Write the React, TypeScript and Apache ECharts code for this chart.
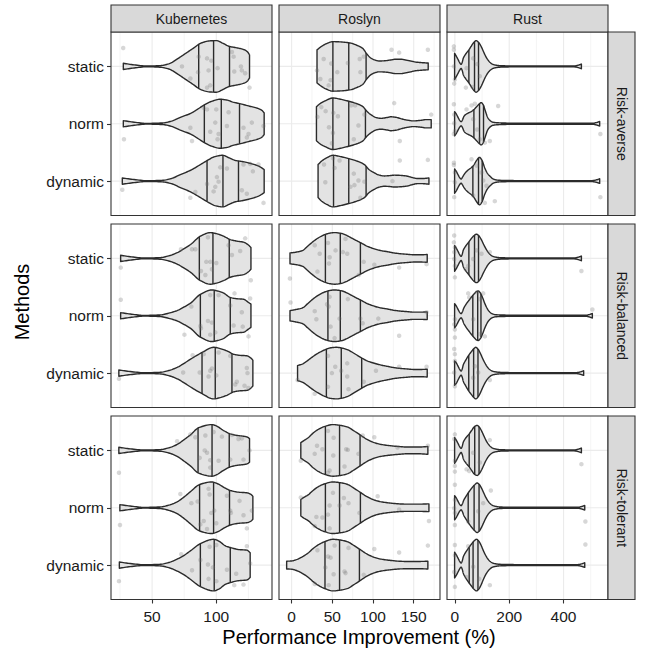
import React, { useEffect, useRef } from "react";
import * as echarts from "echarts";

const PROJECTS = ["Kubernetes", "Roslyn", "Rust"];
const RISK_LEVELS = ["Risk-averse", "Risk-balanced", "Risk-tolerant"];
const METHODS = ["static", "norm", "dynamic"];

const X_LIMITS = [[18, 143.4], [-15.5, 182.3], [-29, 563.6]];
const X_TICK_VALUES = [[50, 100], [0, 50, 100, 150], [0, 200, 400]];
const X_MINOR_VALUES = [[25, 75, 125], [25, 75, 125, 175], [100, 300, 500]];

// Violin outlines: [x, relative half-width] ; [row][method]
const KUBERNETES_SHAPES = [
  [
    [[27.6,.12],[36,.06],[46,.015],[56,.03],[63,.1],[70,.3],[76,.5],[82,.7],[88,.9],[95,.99],[100,1],[105,.9],[110,.78],[116,.72],[121,.66],[124,.58],[125.9,.45]],
    [[27.6,.12],[36,.06],[46,.015],[58,.03],[65,.1],[72,.25],[80,.4],[86,.58],[91,.74],[97,.88],[103,.95],[108,.92],[113,.84],[119,.77],[126,.68],[132,.6],[135.5,.52],[137.3,.42]],
    [[26.8,.12],[36,.06],[46,.015],[58,.03],[65,.1],[72,.25],[80,.42],[87,.62],[93,.8],[99,.95],[105,1],[110,.9],[115,.8],[120,.76],[127,.68],[133,.58],[137.3,.45]],
  ],
  [
    [[25.5,.12],[34,.06],[44,.015],[56,.03],[63,.1],[69.5,.22],[75,.38],[80,.54],[87.6,.86],[95.3,1],[100,.96],[105.7,.86],[110.9,.73],[116,.67],[121.2,.63],[125,.52],[127,.42]],
    [[25.5,.12],[34,.06],[44,.015],[56,.03],[63,.1],[69.5,.2],[75,.34],[80,.49],[87.6,.83],[96.6,1],[101,.96],[105.7,.88],[110.9,.71],[116,.66],[121.2,.64],[125,.52],[127,.45]],
    [[24.1,.12],[33,.06],[44,.015],[56,.03],[63,.1],[69.5,.22],[75,.38],[80,.54],[89,.8],[98,1],[103,.95],[108.3,.86],[113.5,.73],[118,.69],[123.8,.67],[127,.58],[128.5,.5]],
  ],
  [
    [[24.1,.12],[33,.06],[44,.015],[56,.03],[63,.1],[69.5,.23],[75,.42],[79.8,.6],[86.3,.88],[96.6,1],[100,.95],[105.7,.77],[110.9,.64],[116,.58],[121.2,.55],[124,.52],[125.9,.46]],
    [[24.9,.12],[34,.06],[44,.015],[56,.03],[63,.1],[69.5,.23],[75,.42],[79.8,.62],[87,.9],[96.6,1],[101,.93],[107,.76],[110.9,.67],[118,.6],[123.8,.58],[127,.52],[128.5,.45]],
    [[24.5,.12],[33,.06],[44,.015],[56,.03],[63,.1],[69.5,.23],[75,.38],[79.8,.55],[87.6,.83],[97.9,1],[102,.93],[107,.75],[110.9,.68],[118,.6],[123.8,.58],[126.4,.48]],
  ],
];

const ROSLYN_SHAPES = [
  [
    [[31.2,.64],[36,.76],[42,.87],[50.8,.96],[60,.95],[73.1,.9],[80,.82],[87.3,.7],[92,.5],[97.5,.32],[102,.25],[107.7,.21],[115,.22],[121.9,.25],[128,.28],[134.1,.28],[140,.25],[146.3,.21],[152,.17],[158.5,.15],[167.8,.13]],
    [[30.5,.66],[35,.78],[42,.9],[50.8,1],[60,.95],[69.1,.88],[78,.8],[87.3,.67],[92,.5],[97.5,.35],[104,.24],[110,.21],[117,.24],[122,.27],[128,.25],[135,.19],[142,.14],[150,.11],[158,.13],[165,.16],[171.5,.16]],
    [[32.5,.64],[37,.78],[43,.9],[50.8,1],[60,.95],[69.1,.88],[78,.8],[89.4,.64],[95,.45],[101.6,.32],[107,.24],[113.8,.2],[120,.21],[126,.23],[134,.22],[142.3,.19],[148,.14],[154.5,.1],[161,.1],[168.7,.12]],
  ],
  [
    [[-2,.21],[5,.24],[13.7,.31],[19,.45],[24.4,.6],[32,.78],[40.6,.92],[47,.98],[52.8,1],[60.9,.97],[67,.9],[73.1,.8],[79,.7],[85.3,.6],[93,.47],[101.6,.37],[110,.3],[117.9,.26],[126,.21],[134.1,.18],[142,.16],[150.4,.14],[158,.14],[166.6,.15]],
    [[-2,.2],[5,.24],[13.7,.31],[19,.45],[24.4,.6],[32,.78],[40.6,.92],[47,.98],[52.8,1],[60.9,.97],[67,.9],[73.1,.8],[79,.7],[85.3,.6],[93,.47],[101.6,.37],[110,.3],[117.9,.26],[126,.21],[134.1,.18],[142,.16],[150.4,.14],[158,.14],[166.6,.15]],
    [[7.3,.29],[13.7,.36],[19,.47],[24.4,.6],[32,.76],[40.6,.9],[48,.98],[54.9,1],[62,.97],[69.1,.9],[77,.76],[85.3,.6],[93,.47],[101.6,.38],[110,.31],[117.9,.26],[126,.21],[134.1,.18],[142,.16],[150.4,.14],[158,.14],[166.6,.15]],
  ],
  [
    [[11.3,.3],[15,.38],[20.3,.49],[26,.66],[32.5,.81],[40,.92],[50.8,1],[60,.97],[69.1,.9],[76,.77],[83.3,.62],[92,.44],[101.6,.3],[110,.23],[121.9,.18],[132,.15],[142.3,.13],[155,.13],[167.4,.15]],
    [[11.3,.32],[15,.4],[20.3,.5],[26,.66],[32.5,.81],[40,.92],[50.8,1],[60,.97],[69.1,.9],[76,.77],[83.3,.62],[92,.44],[101.6,.3],[110,.23],[121.9,.18],[132,.15],[142.3,.14],[155,.14],[168.7,.15]],
    [[-6.1,.15],[0,.16],[5,.2],[12,.3],[20.3,.47],[26,.63],[32.5,.78],[40,.9],[50.8,1],[60,.97],[69.1,.9],[76,.77],[83.3,.62],[92,.44],[101.6,.3],[110,.23],[121.9,.18],[132,.15],[142.3,.14],[155,.14],[167.4,.15]],
  ],
];

const RUST_SHAPES = [
  [
    [[-1,.51],[5,.4],[12,.26],[18,.14],[23,.08],[27,.16],[31,.32],[40,.48],[51.5,.64],[60,.78],[70,.93],[78,1],[88,.92],[96.8,.77],[105,.58],[113,.4],[121,.26],[130,.15],[140,.08],[150,.05],[165,.03],[200,.02],[440,.02],[455,.05],[465.7,.09]],
    [[-1,.47],[5,.38],[12,.24],[18,.13],[23,.08],[28,.15],[33,.28],[40,.36],[50,.42],[60,.47],[70,.55],[80,.66],[90,.77],[97,.82],[104,.74],[112,.5],[121,.24],[130,.12],[140,.06],[155,.04],[175,.03],[220,.02],[505,.02],[522,.05],[533,.09]],
    [[-1,.47],[5,.38],[12,.24],[18,.13],[23,.08],[28,.15],[33,.24],[40,.34],[50,.44],[60,.52],[70,.63],[80,.8],[90.7,.92],[100,.8],[110,.51],[120,.3],[131,.17],[140,.09],[150,.05],[165,.03],[220,.02],[505,.02],[522,.05],[533,.09]],
  ],
  [
    [[-1,.5],[5,.4],[12,.26],[18,.14],[23,.08],[27,.16],[31,.32],[40,.48],[51.5,.64],[60,.76],[70,.88],[79.7,.94],[88,.88],[96.8,.74],[105,.56],[113,.4],[121,.26],[130,.15],[140,.08],[150,.05],[165,.03],[200,.02],[440,.02],[455,.05],[465.7,.09]],
    [[-1,.47],[5,.38],[12,.24],[18,.13],[23,.08],[28,.16],[33,.3],[42,.46],[52,.6],[62,.74],[72,.86],[80,.94],[86,.96],[94,.88],[102,.7],[110,.48],[118,.3],[127,.16],[137,.08],[150,.04],[170,.03],[220,.02],[480,.02],[496,.05],[506,.09]],
    [[-1,.47],[5,.4],[12,.26],[18,.14],[23,.08],[27,.16],[31,.32],[40,.5],[50,.68],[60,.82],[70,.95],[77,1],[85,.93],[94,.76],[102,.57],[110,.4],[118,.26],[127,.15],[137,.08],[148,.05],[165,.03],[200,.02],[448,.02],[463,.05],[474,.09]],
  ],
  [
    [[-1,.5],[5,.4],[12,.26],[18,.14],[23,.08],[27,.16],[31,.32],[40,.48],[52,.63],[62,.78],[72,.92],[82,.97],[90,.9],[98,.76],[106,.58],[114,.4],[122,.26],[131,.15],[141,.08],[152,.05],[165,.03],[200,.02],[440,.02],[455,.05],[465.7,.09]],
    [[-1,.47],[5,.38],[12,.24],[18,.13],[23,.08],[28,.16],[33,.3],[42,.46],[52,.62],[62,.76],[72,.88],[82,.96],[90,.9],[98,.76],[106,.58],[114,.4],[122,.26],[131,.15],[141,.08],[152,.05],[165,.03],[220,.02],[452,.02],[467,.05],[478,.09]],
    [[-1,.5],[5,.4],[12,.26],[18,.14],[23,.08],[27,.16],[31,.32],[40,.5],[50,.66],[60,.8],[70,.93],[79.7,1],[88,.93],[96,.78],[104,.58],[112,.4],[120,.26],[129,.15],[139,.08],[150,.05],[165,.03],[220,.02],[452,.02],[467,.05],[478,.09]],
  ],
];

// Quartiles (25%, 50%, 75%) ; [row][method]
const KUBERNETES_QUARTILES = [
  [[86.3, 97.9, 110.3], [90.7, 103.9, 118.1], [92.8, 105.2, 117.3]],
  [[86.8, 97.4, 110.1], [87.6, 98.4, 110.9], [88.9, 99.2, 112.2]],
  [[85.8, 96.7, 110.1], [87, 97.9, 110.3], [87.6, 98.4, 110.9]],
];
const ROSLYN_QUARTILES = [
  [[50.7, 70.2, 91.5], [50.7, 70.2, 90.7], [51.5, 70.2, 91.5]],
  [[41.5, 59.8, 84.5], [44.6, 59.8, 84.5], [42.7, 61, 86.1]],
  [[41.5, 58.9, 84.1], [41.5, 58.9, 84.5], [41, 58.9, 83.3]],
];
const RUST_QUARTILES = [
  [[51.5, 72.3, 87], [70, 90.7, 105.4], [66.2, 87, 100.5]],
  [[51.5, 72.3, 87], [66, 84, 96], [51, 69, 85]],
  [[52.7, 73, 89], [49, 70.8, 89], [52.7, 67, 85]],
];

// Jittered observations [x, jittered method position]
const KUBERNETES_POINTS = [
  [[27.5,0.68],[73.3,1.0],[79.8,1.21],[86.3,0.83],[85.8,1.10],[92.8,0.86],[94,1.07],[96.1,0.90],[101,1.03],[92.8,1.37],[95.3,1.33],[112.2,0.75],[113.5,0.83],[114,1.09],[119.2,1.0],[119.9,1.07],[122.5,1.12],[125.9,1.37],
   [28.1,2.27],[79.8,2.07],[81.1,2.30],[90.2,1.72],[92.8,1.75],[95.3,2.14],[100,1.75],[99.2,1.98],[101.8,2.18],[101,2.27],[108.3,2.04],[121.2,2.07],[123.8,2.24],[125.1,2.18],[127.7,1.98],[136.8,2.04],[109.6,1.80],
   [26.8,3.15],[79.8,3.29],[83.7,3.19],[92.8,3.05],[100.5,2.93],[101.8,3.01],[103.1,2.76],[99.2,3.10],[97.9,3.18],[108.3,2.78],[119.9,3.16],[121.2,2.71],[126.4,2.70],[128.5,2.83],[132.9,2.71],[136.8,3.38],[123.8,3.22]],
  [[25.6,1.16],[72.5,0.84],[81.1,0.84],[83.7,0.84],[93.5,0.63],[92.2,1.06],[95.3,1.06],[100,1.08],[88.1,1.22],[91.5,1.29],[96.6,1.19],[109.6,0.77],[112.2,0.94],[118.6,0.87],[122.5,0.65],[126.9,1.38],
   [25.6,1.72],[80.6,1.84],[95.3,1.64],[101.8,1.64],[114.2,1.61],[126.4,1.70],[110.9,1.82],[119.9,1.94],[93.5,2.09],[96.6,2.12],[87.6,2.18],[88.1,2.22],[75.2,2.33],[95.3,2.33],[99.2,2.29],[113.5,2.17],[120.6,2.19],[125.1,2.36],
   [81.6,2.69],[90.2,2.67],[101.8,2.64],[110.9,2.70],[123.8,2.91],[124.3,3.0],[74.2,2.99],[87.1,2.99],[95.3,2.96],[96.6,2.92],[100,3.04],[94,3.06],[116,3.15],[114.8,3.20],[24.2,3.10],[122,3.22],[125,3.26]],
  [[24.2,1.39],[69.5,0.84],[79.8,0.72],[83.7,0.77],[91.5,0.74],[91,1.0],[92.8,1.04],[95.3,1.17],[87.1,1.13],[95.3,1.30],[97.9,0.68],[101.8,1.18],[104.4,0.76],[110.9,1.16],[112.2,0.73],[117.3,0.80],[119.9,0.79],[121.2,1.16],[125.9,1.0],
   [25,2.30],[72,1.76],[80.6,1.92],[85.5,1.89],[94,1.67],[94.8,1.77],[96.1,2.09],[98.4,2.05],[90.2,2.23],[87.6,2.29],[92.8,2.37],[100,2.27],[108.3,1.79],[110.9,2.05],[111.4,2.09],[118.1,1.88],[121.2,2.13],[123.8,2.36],[127.7,2.05],
   [24.2,3.28],[72.7,2.81],[81.1,3.09],[87.6,2.91],[93.5,2.99],[94.8,2.68],[100,2.65],[97.4,3.04],[94,3.24],[100,3.28],[108.3,3.08],[115.5,3.15],[114,3.35],[121.2,3.34],[123.8,2.67],[126.4,2.97]],
];

const ROSLYN_POINTS = [
  [[39.4,0.87],[48.7,0.95],[31.2,1.07],[56.1,1.10],[69.1,0.94],[83.7,0.87],[88.6,0.83],[84.5,1.10],[35.3,1.22],[47.9,1.24],[45.5,1.33],[122.7,0.71],[132.1,0.76],[167.4,0.71],
   [31.7,1.88],[36.5,1.71],[41.8,1.78],[51.2,1.81],[56.9,1.87],[45.9,2.06],[50.8,2.16],[49.5,2.34],[73.1,1.68],[78,1.68],[89.4,1.84],[82.1,2.03],[76.4,2.27],[126,1.64],[171.5,1.84],[132.9,2.30],
   [39.8,2.71],[50.8,2.60],[58.9,2.64],[52.8,2.77],[41.4,3.02],[76.4,2.87],[82.1,2.99],[77.2,3.07],[72.3,3.10],[89.4,3.01],[123.9,3.0],[132.9,2.64],[167.4,2.63],[84.5,3.29]],
  [[-2.1,1.35],[28.4,0.77],[34.5,0.92],[44.7,0.73],[46.7,0.98],[45.9,1.09],[54,0.86],[63,0.89],[68.3,0.92],[66.2,0.66],[31.7,1.23],[88.6,1.06],[101.6,1.11],[132.1,1.16],[165.8,1.10],[82.5,1.29],
   [-1.3,1.77],[28.4,1.92],[30.4,2.06],[43.5,1.80],[45.5,1.84],[46.7,1.67],[58.9,2.05],[69.1,1.71],[84.5,2.05],[87.3,2.13],[106.5,2.05],[47.9,2.19],[52.8,2.39],[132.1,2.35],[165.8,1.94],
   [7.3,3.12],[44.7,2.70],[49.5,3.0],[53.6,2.89],[60.9,2.96],[68.3,2.83],[68.3,3.06],[88.6,3.15],[103.6,2.96],[132.1,2.89],[165.8,2.89],[28.4,3.36],[44.7,3.24],[69.9,3.28]],
  [[44.7,0.66],[51.6,0.78],[31.2,0.92],[37.8,0.98],[28.4,1.06],[11.3,1.18],[51.2,1.09],[67,0.98],[69.1,0.99],[82.1,1.06],[87.3,0.74],[101.6,0.77],[65,1.28],[46.7,1.35],[44.7,1.39],[130.1,0.95],[167.4,0.92],
   [11.3,1.82],[50.8,1.74],[46.7,1.96],[64.2,1.83],[69.9,1.92],[58.9,1.96],[44.7,2.12],[30.4,2.16],[37.8,2.17],[28.4,2.32],[46.7,2.36],[83.3,2.09],[105.7,1.80],[132.1,2.03],[168.7,2.23],
   [31.7,2.74],[52.8,2.66],[44.7,2.85],[47.9,2.87],[41.4,3.04],[65,3.11],[66.2,3.14],[51.6,3.16],[28.4,3.33],[45.5,3.35],[88.6,3.17],[101.6,2.72],[132.1,2.78],[167.4,2.66],[69.9,2.70]],
];

const RUST_POINTS = [
  [[-3.7,0.65],[-3.7,0.71],[0,1.23],[-2.5,1.30],[40.4,1.37],[65,1.36],[42.9,1.03],[82.1,0.96],[91.9,1.17],[67.4,0.86],[-3.7,1.0],
   [-3.7,1.66],[-2.5,1.84],[-2.5,1.99],[0,2.13],[-3.7,2.18],[42.9,1.75],[61.3,1.68],[73.5,1.65],[67.4,1.92],[82.1,2.10],[91.9,2.27],[110.3,2.33],[128.7,2.30],[159.3,1.69],[535.5,2.18],
   [-3.7,2.68],[-3.7,2.72],[0,2.85],[0,3.02],[-2.5,3.28],[61.3,2.62],[79.7,2.73],[98,2.85],[104.2,2.99],[116.4,3.08],[110.3,3.38],[147,3.35],[67.4,3.25],[535.5,3.28]],
  [[-2.5,0.60],[-3.7,0.72],[0,0.81],[-2.5,0.89],[-2.5,1.01],[0,1.33],[40.4,1.19],[49,1.13],[67.4,1.01],[79.7,0.86],[98,0.92],[128.7,0.89],[465.7,1.22],[0,1.13],
   [49,1.61],[52.7,1.68],[82.1,1.59],[104.2,1.61],[91.9,1.71],[0,2.06],[-2.5,2.15],[0,2.24],[0,2.38],[67.4,2.06],[91.9,2.32],[110.3,2.36],[506.1,1.89],
   [-2.5,2.58],[0,2.67],[0,2.79],[-2.5,2.99],[0,3.23],[73.5,2.88],[85.8,2.99],[128.7,3.12],[67.4,3.08]],
  [[0,0.72],[-2.5,0.80],[0,1.18],[0,1.27],[0,1.37],[42.9,1.33],[52.7,1.36],[128.7,0.82],[91.9,1.21],[67.4,1.04],[465.7,1.24],
   [0,1.60],[0,1.86],[-2.5,2.01],[0,2.09],[0,2.30],[132.4,1.70],[49,2.24],[85.8,2.06],[104.2,1.92],[480.4,2.24],
   [0,2.65],[0,2.83],[-2.5,3.12],[0,3.38],[49,2.67],[67.4,3.03],[89.5,3.24],[128.7,3.35],[480.4,2.64],[42.9,3.21]],
];

const SHAPES = [KUBERNETES_SHAPES, ROSLYN_SHAPES, RUST_SHAPES];
const QUARTILES = [KUBERNETES_QUARTILES, ROSLYN_QUARTILES, RUST_QUARTILES];
const POINTS = [KUBERNETES_POINTS, ROSLYN_POINTS, RUST_POINTS];

const FONT = "'Liberation Sans', Arial, Helvetica, sans-serif";
const GRID_LEFT = [111, 279, 447];
const GRID_TOP = [32, 224, 416];
const PANEL_W = 161;
const PANEL_H = 183.5;
const HALF = 0.45;
const EDGE = "#2B2B2B";

function monotone(prof: number[][]) {
  const n = prof.length;
  const xs = prof.map((p) => p[0]);
  const ys = prof.map((p) => p[1]);
  const h: number[] = [];
  const d: number[] = [];
  for (let i = 0; i < n - 1; i++) {
    h[i] = xs[i + 1] - xs[i];
    d[i] = (ys[i + 1] - ys[i]) / h[i];
  }
  const m: number[] = new Array(n).fill(0);
  m[0] = d[0];
  m[n - 1] = d[n - 2];
  for (let i = 1; i < n - 1; i++) {
    if (d[i - 1] * d[i] <= 0) m[i] = 0;
    else {
      const w1 = 2 * h[i] + h[i - 1];
      const w2 = h[i] + 2 * h[i - 1];
      m[i] = (w1 + w2) / (w1 / d[i - 1] + w2 / d[i]);
    }
  }
  const f = (x: number) => {
    if (x <= xs[0]) return ys[0];
    if (x >= xs[n - 1]) return ys[n - 1];
    let i = 0;
    while (i < n - 2 && x > xs[i + 1]) i++;
    const t = (x - xs[i]) / h[i];
    const t2 = t * t;
    const t3 = t2 * t;
    const v =
      (2 * t3 - 3 * t2 + 1) * ys[i] +
      (t3 - 2 * t2 + t) * h[i] * m[i] +
      (-2 * t3 + 3 * t2) * ys[i + 1] +
      (t3 - t2) * h[i] * m[i + 1];
    return Math.max(0, v);
  };
  const samples: number[] = [];
  for (let i = 0; i < n - 1; i++) {
    for (let k = 0; k < 8; k++) samples.push(xs[i] + (h[i] * k) / 8);
  }
  samples.push(xs[n - 1]);
  return { f, samples };
}

function buildOption() {
  const grid: any[] = [];
  const xAxis: any[] = [];
  const yAxis: any[] = [];
  const series: any[] = [];
  const graphic: any[] = [];

  for (let r = 0; r < 3; r++) {
    for (let c = 0; c < 3; c++) {
      const idx = r * 3 + c;
      const [xmin, xmax] = X_LIMITS[c];
      grid.push({ left: GRID_LEFT[c], top: GRID_TOP[r], width: PANEL_W, height: PANEL_H, show: false });
      xAxis.push({
        type: "value",
        gridIndex: idx,
        min: xmin,
        max: xmax,
        splitLine: { show: false },
        axisLine: { show: false },
        axisTick: { show: r === 2, customValues: X_TICK_VALUES[c], length: 4, lineStyle: { color: "#333", width: 1.1 } },
        axisLabel: { show: r === 2, customValues: X_TICK_VALUES[c], margin: 9, fontSize: 15.5, color: "#1A1A1A", fontFamily: FONT },
      });
      yAxis.push({
        type: "value",
        gridIndex: idx,
        min: 0.4,
        max: 3.6,
        inverse: true,
        splitLine: { show: false },
        axisLine: { show: false },
        axisTick: { show: c === 0, customValues: [1, 2, 3], length: 4, lineStyle: { color: "#333", width: 1.1 } },
        axisLabel: {
          show: c === 0,
          customValues: [1, 2, 3],
          formatter: (v: number) => METHODS[Math.round(v) - 1] || "",
          margin: 7,
          fontSize: 15.5,
          color: "#1A1A1A",
          fontFamily: FONT,
        },
      });

      const gridData: number[][] = [];
      X_TICK_VALUES[c].forEach((v) => gridData.push([v, 2, 0, 1]));
      X_MINOR_VALUES[c].forEach((v) => gridData.push([v, 2, 0, 0]));
      [1, 2, 3].forEach((v) => gridData.push([(xmin + xmax) / 2, v, 1, 1]));
      series.push({
        type: "custom",
        xAxisIndex: idx,
        yAxisIndex: idx,
        silent: true,
        z: 1,
        data: gridData,
        renderItem: (params: any, api: any) => {
          const kind = api.value(2);
          const major = api.value(3) === 1;
          let p1: number[];
          let p2: number[];
          if (kind === 0) {
            p1 = api.coord([api.value(0), 0.4]);
            p2 = api.coord([api.value(0), 3.6]);
          } else {
            p1 = api.coord([xmin, api.value(1)]);
            p2 = api.coord([xmax, api.value(1)]);
          }
          return {
            type: "line",
            shape: { x1: p1[0], y1: p1[1], x2: p2[0], y2: p2[1] },
            style: { stroke: "#EBEBEB", lineWidth: major ? 1.1 : 0.55 },
          };
        },
      });

      const shapes = SHAPES[c][r];
      const quarts = QUARTILES[c][r];
      series.push({
        type: "custom",
        xAxisIndex: idx,
        yAxisIndex: idx,
        silent: true,
        z: 2,
        data: quarts.map((q, k) => [q[1], k + 1]),
        renderItem: (params: any, api: any) => {
          const k = params.dataIndex;
          const cpos = k + 1;
          const { f, samples } = monotone(shapes[k]);
          const top: number[][] = [];
          const bot: number[][] = [];
          samples.forEach((x) => {
            const w = f(x) * HALF;
            top.push(api.coord([x, cpos - w]));
            bot.push(api.coord([x, cpos + w]));
          });
          const pts = top.concat(bot.reverse());
          const children: any[] = [
            { type: "polygon", shape: { points: pts }, style: { fill: "#E3E3E3", stroke: EDGE, lineWidth: 1.4, lineJoin: "round" } },
          ];
          quarts[k].forEach((q) => {
            const w = f(q) * HALF;
            const a = api.coord([q, cpos - w]);
            const b = api.coord([q, cpos + w]);
            children.push({
              type: "line",
              shape: { x1: a[0], y1: a[1], x2: b[0], y2: b[1] },
              style: { stroke: EDGE, lineWidth: 1.4 },
            });
          });
          return { type: "group", children };
        },
      });

      series.push({
        type: "scatter",
        xAxisIndex: idx,
        yAxisIndex: idx,
        silent: true,
        z: 3,
        symbolSize: 4.5,
        itemStyle: { color: "rgba(110,110,110,0.35)" },
        data: POINTS[c][r],
      });

      graphic.push({
        type: "rect",
        z: 100,
        shape: { x: GRID_LEFT[c], y: GRID_TOP[r], width: PANEL_W, height: PANEL_H },
        style: { fill: "none", stroke: "#333333", lineWidth: 1.1 },
      });
    }
  }

  for (let c = 0; c < 3; c++) {
    graphic.push({
      type: "rect",
      z: 100,
      shape: { x: GRID_LEFT[c], y: 5, width: PANEL_W, height: 27 },
      style: { fill: "#D9D9D9", stroke: "#333333", lineWidth: 1.1 },
    });
    graphic.push({
      type: "text",
      z: 101,
      x: GRID_LEFT[c] + PANEL_W / 2,
      y: 18.5,
      style: { text: PROJECTS[c], fill: "#1A1A1A", fontSize: 14, fontFamily: FONT, align: "center", verticalAlign: "middle" },
    });
  }
  for (let r = 0; r < 3; r++) {
    graphic.push({
      type: "rect",
      z: 100,
      shape: { x: GRID_LEFT[2] + PANEL_W, y: GRID_TOP[r], width: 27, height: PANEL_H },
      style: { fill: "#D9D9D9", stroke: "#333333", lineWidth: 1.1 },
    });
    graphic.push({
      type: "text",
      z: 101,
      x: GRID_LEFT[2] + PANEL_W + 13.5,
      y: GRID_TOP[r] + PANEL_H / 2,
      rotation: -Math.PI / 2,
      style: { text: RISK_LEVELS[r], fill: "#1A1A1A", fontSize: 14, fontFamily: FONT, align: "center", verticalAlign: "middle" },
    });
  }
  graphic.push({
    type: "text",
    z: 101,
    x: 359,
    y: 637,
    style: { text: "Performance Improvement (%)", fill: "#000", fontSize: 20, fontFamily: FONT, align: "center", verticalAlign: "middle" },
  });
  graphic.push({
    type: "text",
    z: 101,
    x: 22,
    y: 302,
    rotation: Math.PI / 2,
    style: { text: "Methods", fill: "#000", fontSize: 20, fontFamily: FONT, align: "center", verticalAlign: "middle" },
  });

  return { animation: false, backgroundColor: "#FFFFFF", grid, xAxis, yAxis, series, graphic };
}

export default function App() {
  const ref = useRef<HTMLDivElement>(null);
  useEffect(() => {
    if (!ref.current) return;
    const chart = echarts.init(ref.current, undefined, { renderer: "svg" });
    chart.setOption(buildOption() as any);
    return () => chart.dispose();
  }, []);
  return <div ref={ref} style={{ position: "fixed", left: 0, top: 0, width: 646, height: 654 }} />;
}
